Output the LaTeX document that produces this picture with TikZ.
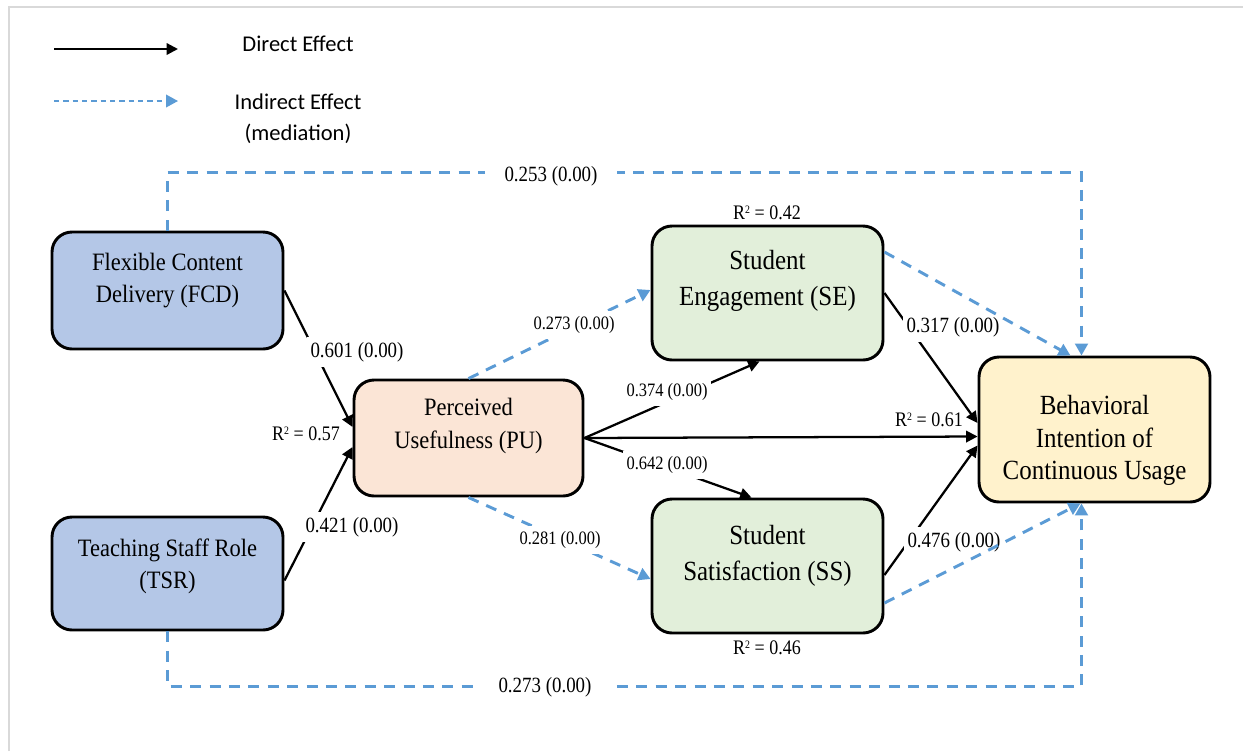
\documentclass[tikz,border=0pt]{standalone}
\usepackage{fontspec}
\setmainfont{Liberation Serif}
\newfontfamily\nfont[FakeStretch=0.9]{Liberation Serif}
\newfontfamily\lfont[FakeStretch=0.87]{Liberation Serif}
\newfontfamily\gfont{Carlito}
\usetikzlibrary{arrows.meta,calc}
\definecolor{fcdblue}{HTML}{B4C7E7}
\definecolor{pupeach}{HTML}{FBE5D6}
\definecolor{segreen}{HTML}{E2EFDA}
\definecolor{biyellow}{HTML}{FFF2CC}
\definecolor{dashblue}{HTML}{5B9BD5}
\definecolor{framegray}{HTML}{D9D9D9}
\newcommand\dpx[1]{\rule[-#1]{0pt}{#1}}
\newcommand\rsq{R\raisebox{0.62ex}{\fontsize{8.5}{9}\selectfont 2}}
\begin{document}
\begin{tikzpicture}[x=0.75pt,y=-0.75pt,
 box/.style={draw=black, line width=2.2pt, rounded corners=15pt, align=center, inner sep=0pt},
 smallbox/.style={box, font=\nfont\fontsize{18.75}{24.5}\selectfont},
 bigbox/.style={box, font=\nfont\fontsize{20.8}{26.5}\selectfont},
 direct/.style={line width=1.7pt, -{Triangle[length=8.5pt,width=8.5pt]}},
 indirect/.style={dashblue, line width=2.2pt, dash pattern=on 8.25pt off 6.3pt, -{Triangle[length=9pt,width=9.5pt]}},
 biglab/.style={font=\lfont\fontsize{16.3}{19}\selectfont, fill=white, inner xsep=3pt, inner ysep=4pt},
 smalllab/.style={font=\lfont\fontsize{14.2}{17}\selectfont, fill=white, inner xsep=3pt, inner ysep=4pt},
 rlab/.style={font=\lfont\fontsize{15.5}{18}\selectfont, inner sep=1pt},
 legtext/.style={font=\gfont\fontsize{16.9}{23}\selectfont, align=center}
]
\useasboundingbox (0,0) rectangle (1243,751);
% frame
\draw[framegray, line width=1.5pt] (9,751) -- (9,7) -- (1243,7);

% legend
\coordinate (l1a) at (54,49);
\coordinate (l1b) at (178,49);
\coordinate (l2a) at (54,101);
\coordinate (l2b) at (178,101);
\draw[direct] (l1a) -- (l1b);
\draw[indirect, line width=1.2pt, dash pattern=on 4pt off 3pt] (l2a) -- (l2b);
\node[legtext] (legd) at (298,44) {Direct Effect};
\node[legtext] (legi) at (298,119) {Indirect Effect\\(mediation)};

% nodes
\node[smallbox, fill=fcdblue, minimum width=173.25pt, minimum height=87.75pt] (fcd) at (167.5,290.5) {Flexible Content\\Delivery (FCD)\dpx{19pt}};
\node[smallbox, fill=fcdblue, minimum width=173.25pt, minimum height=84.75pt] (tsr) at (167.5,573.5) {Teaching Staff Role\\(TSR)\dpx{14.5pt}};
\node[smallbox, fill=pupeach, minimum width=171.75pt, minimum height=87pt] (pu) at (468.5,438) {Perceived\\Usefulness (PU)\dpx{22pt}};
\node[bigbox, fill=segreen, minimum width=173.25pt, minimum height=100.5pt] (se) at (767.5,293) {Student\\Engagement (SE)\dpx{22.5pt}};
\node[bigbox, fill=segreen, minimum width=173.25pt, minimum height=100.5pt] (ss) at (767.5,566) {Student\\Satisfaction (SS)\dpx{19.5pt}};
\node[bigbox, font=\nfont\fontsize{20.8}{24.5}\selectfont, fill=biyellow, minimum width=173.25pt, minimum height=108.75pt] (bi) at (1094.5,429.5) {\rule{0pt}{30.75pt}Behavioral\\Intention of\\Continuous Usage};

% direct effects
\draw[direct] (fcd.east) -- ($(pu.west)+(0,-11)$);
\draw[direct] ($(tsr.east)+(0,7)$) -- ($(pu.west)+(0,9)$);
\draw[direct] (pu.east) -- ($(se.south)+(-8,0)$);
\draw[direct] (pu.east) -- ($(ss.north)+(-16,0)$);
\draw[direct] (pu.east) -- ($(bi.west)+(0,7)$);
\draw[direct] (se.east) -- ($(bi.west)+(0,-6.5)$);
\draw[direct] ($(ss.east)+(0,9)$) -- ($(bi.west)+(0,16)$);

% direct labels
\node[biglab] (l601) at (357,352) {0.601 (0.00)};
\node[biglab] (l421) at (352,527) {0.421 (0.00)};
\node[smalllab] (l374) at (667,392) {0.374 (0.00)};
\node[smalllab] (l642) at (667,465) {0.642 (0.00)};
\node[biglab] (l317) at (953,327) {0.317 (0.00)};
\node[biglab] (l476) at (954,542) {0.476 (0.00)};

% indirect effects
\draw[indirect] (pu.north) -- ($(se.west)+(0,-3)$);
\draw[indirect] (pu.south) -- ($(ss.west)+(0,13)$);
\draw[indirect] ($(se.east)+(0,-41)$) -- ($(bi.north)+(-24,0)$);
\draw[indirect] ($(ss.east)+(0,37)$) -- ($(bi.south)+(-14,0)$);
\draw[indirect] (fcd.north) -- ++(0,-58) -| ($(bi.north)+(-13,0)$);
\draw[indirect] (tsr.south) -- ++(0,55) -| ($(bi.south)+(-13,0)$);

% indirect labels
\node[smalllab] (l273a) at (574,325) {0.273 (0.00)};
\node[smalllab] (l281) at (560,540) {0.281 (0.00)};
\node[biglab, inner xsep=15pt] (l253) at (551,176) {0.253 (0.00)};
\node[biglab, inner xsep=15pt] (l273b) at (545,687) {0.273 (0.00)};

% R squared
\node[rlab] (r42) at (767,213) {\rsq{} = 0.42};
\node[rlab] (r57) at (306,434) {\rsq{} = 0.57};
\node[rlab] (r61) at (929,420) {\rsq{} = 0.61};
\node[rlab] (r46) at (767,648) {\rsq{} = 0.46};
\end{tikzpicture}
\end{document}
